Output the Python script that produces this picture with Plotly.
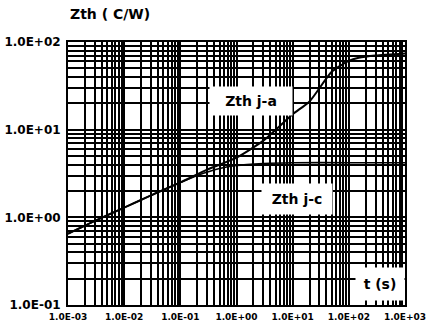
import numpy as np
import plotly.graph_objects as go

# ---- data ----
t_ja = [1e-3, 3e-3, 1e-2, 3e-2, 0.1, 0.3, 1, 3, 10, 20, 50, 100, 150, 300, 1000]
z_ja = [0.65, 0.91, 1.29, 1.78, 2.5, 3.5, 4.8, 7.5, 15, 21, 46, 61, 66, 70, 74]

t_jc = [1e-3, 3e-3, 1e-2, 3e-2, 0.1, 0.2, 0.5, 1, 3, 10, 100, 1000]
z_jc = [0.65, 0.91, 1.29, 1.78, 2.5, 3.0, 3.6, 3.9, 4.1, 4.2, 4.2, 4.2]

x_tickvals = [1e-3, 1e-2, 1e-1, 1e0, 1e1, 1e2, 1e3]
x_ticktext = ["1.0E-03", "1.0E-02", "1.0E-01", "1.0E+00", "1.0E+01", "1.0E+02", "1.0E+03"]
y_tickvals = [1e-1, 1e0, 1e1, 1e2]
y_ticktext = ["1.0E-01", "1.0E+00", "1.0E+01", "1.0E+02"]

labels = ["Zth j-a", "Zth j-c", "t (s)"]
label_pos = [(10**0.25, 10**1.33), (10**1.07, 10**0.21), (10**2.55, 10**-0.76)]
label_box = [(80, 26), (68, 28), (46, 30)]
title_text = "Zth ( C/W)"

FONT = "DejaVu Sans"
W, H = 428, 327

x_minor = [m * 10.0**e for e in range(-3, 3) for m in range(2, 10)]
y_minor = [m * 10.0**e for e in range(-1, 2) for m in range(2, 10)]

fig = go.Figure()
fig.add_trace(go.Scatter(x=t_jc, y=z_jc, mode="lines", line=dict(color="black", width=1.6, shape="spline", smoothing=0.6),
                         showlegend=False, hoverinfo="skip"))
fig.add_trace(go.Scatter(x=t_ja, y=z_ja, mode="lines", line=dict(color="black", width=2, shape="spline", smoothing=0.6),
                         showlegend=False, hoverinfo="skip"))

axis_common = dict(
    type="log", showgrid=True, gridcolor="black", gridwidth=2,
    showline=True, linecolor="black", linewidth=2, mirror=True,
    ticks="", zeroline=False, automargin=False,
)
fig.update_xaxes(
    **axis_common, range=[-3, 3], tickvals=x_tickvals, ticktext=x_ticktext,
    tickfont=dict(family=FONT, size=9, color="black", weight="bold"),
    ticklabelstandoff=2,
    minor=dict(tickvals=x_minor, showgrid=True, gridcolor="black", gridwidth=1.5, ticks=""),
)
fig.update_yaxes(
    **axis_common, range=[-1, 2], tickvals=y_tickvals, ticktext=y_ticktext,
    tickfont=dict(family=FONT, size=12, color="black", weight="bold"),
    ticklabelstandoff=3,
    minor=dict(tickvals=y_minor, showgrid=True, gridcolor="black", gridwidth=1.5, ticks=""),
)

for txt, (ax, ay), (w, h) in zip(labels, label_pos, label_box):
    fig.add_annotation(x=np.log10(ax), y=np.log10(ay), xref="x", yref="y", text=txt, showarrow=False,
                       font=dict(family=FONT, size=14, color="black", weight="bold"),
                       bgcolor="white", width=w, height=h, align="center", valign="middle")

# chart title, centred a little to the right of the plot's left edge
fig.add_annotation(x=0.125, xref="paper", xanchor="center",
                   y=1, yref="paper", yanchor="bottom", yshift=18,
                   text=title_text, showarrow=False,
                   font=dict(family=FONT, size=14, color="black", weight="bold"))

fig.update_layout(
    width=W, height=H,
    margin=dict(l=68, r=23, t=42, b=22, autoexpand=False),
    paper_bgcolor="white", plot_bgcolor="white",
    showlegend=False,
)

fig.write_html("out.html", config={"displayModeBar": False},
               post_script="document.body.style.margin='0';document.body.style.overflow='hidden';")
